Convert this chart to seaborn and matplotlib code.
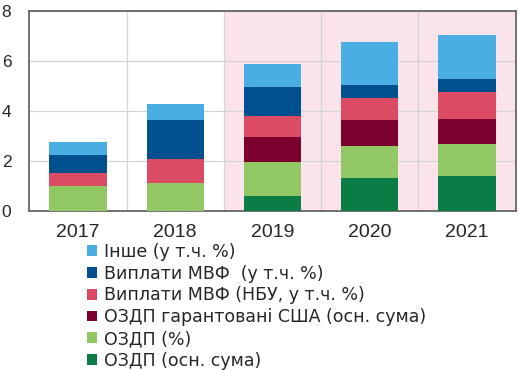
import numpy as np
import pandas as pd
import matplotlib
matplotlib.use("Agg")
import matplotlib.pyplot as plt
import seaborn as sns
from matplotlib.patches import Patch

years = ["2017", "2018", "2019", "2020", "2021"]
# bottom to top
ozdp_main = [0.0, 0.0, 0.61, 1.32, 1.39]
ozdp_pct = [1.01, 1.13, 1.34, 1.29, 1.28]
ozdp_usa = [0.0, 0.0, 1.01, 1.02, 1.01]
imf_nbu = [0.52, 0.95, 0.84, 0.90, 1.09]
imf_pay = [0.71, 1.55, 1.15, 0.51, 0.51]
other = [0.53, 0.66, 0.92, 1.73, 1.75]

labels = ["ОЗДП (осн. сума)", "ОЗДП (%)", "ОЗДП гарантовані США (осн. сума)",
          "Виплати МВФ (НБУ, у т.ч. %)", "Виплати МВФ  (у т.ч. %)", "Інше (у т.ч. %)"]
colors = ["#0a7d46", "#92c864", "#7b0030", "#dc4b64", "#00508f", "#4aaee3"]
series = [ozdp_main, ozdp_pct, ozdp_usa, imf_nbu, imf_pay, other]

df = pd.DataFrame({"year": years})
for lab, vals in zip(labels, series):
    df[lab] = vals
cum = df[labels].cumsum(axis=1)

sns.set_style("white")
plt.rcParams["font.family"] = ["Liberation Sans", "DejaVu Sans"]

fig = plt.figure(figsize=(5.19, 3.70), dpi=100)
ax = fig.add_axes([0.0565, 0.4297, 0.937, 0.5406])

ax.axvspan(1.5, 4.5, color="#fbe3eb", zorder=0, lw=0)

# draw cumulative totals from the top layer down
for lab, col in reversed(list(zip(labels, colors))):
    sns.barplot(x=df["year"], y=cum[lab], color=col, width=0.59,
                saturation=1, ax=ax, zorder=3, linewidth=0)

ax.set_xlim(-0.5, 4.5)
ax.set_ylim(0, 8)
ax.set_yticks([0, 2, 4, 6, 8])
ax.set_xlabel("")
ax.set_ylabel("")
ax.set_xticks([0.5, 1.5, 2.5, 3.5], minor=True)
ax.grid(True, axis="y", color="#d4d4d4", lw=0.9, zorder=1)
ax.grid(True, axis="x", which="minor", color="#d4d4d4", lw=0.9, zorder=1)
ax.tick_params(axis="x", which="major", length=0, pad=9, labelsize=14)
ax.tick_params(axis="x", which="minor", direction="in", length=4, color="#555555")
ax.tick_params(axis="y", length=0, pad=13, labelsize=12.5)
for s in ax.spines.values():
    s.set_color("#666666")
    s.set_linewidth(1.3)

handles = [Patch(facecolor=c, edgecolor="none") for c in colors]
fig.legend(handles[::-1], labels[::-1], loc="upper left",
           bbox_to_anchor=(0.168, 0.344), frameon=False,
           prop={"family": "DejaVu Sans", "size": 12.5},
           handlelength=0.58, handleheight=0.58, handletextpad=0.38,
           labelspacing=0.22, borderpad=0, borderaxespad=0)

fig.savefig("out.png", dpi=100)
